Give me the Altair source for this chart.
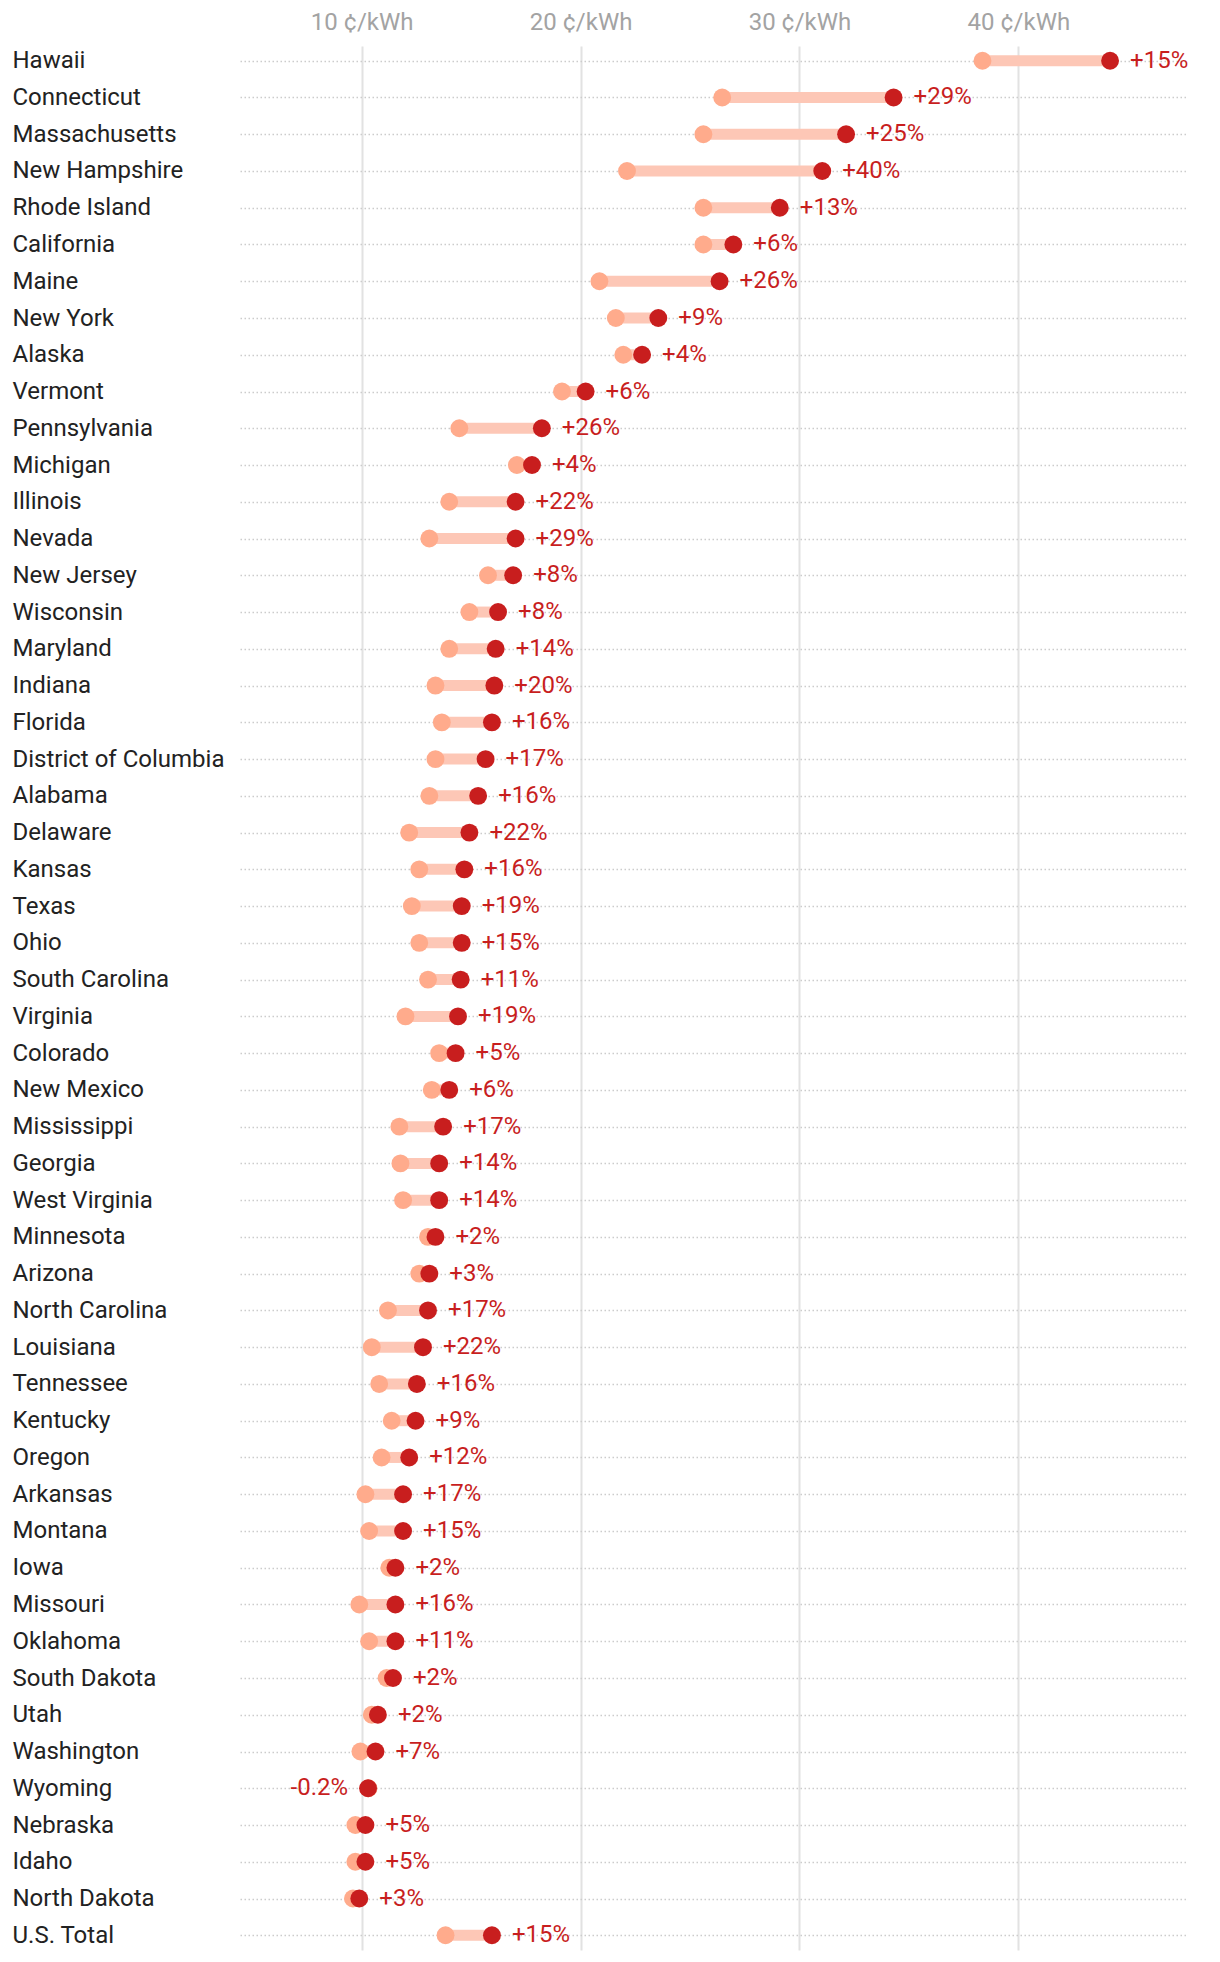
import altair as alt
import pandas as pd

states = [
    "Hawaii", "Connecticut", "Massachusetts", "New Hampshire", "Rhode Island",
    "California", "Maine", "New York", "Alaska", "Vermont", "Pennsylvania",
    "Michigan", "Illinois", "Nevada", "New Jersey", "Wisconsin", "Maryland",
    "Indiana", "Florida", "District of Columbia", "Alabama", "Delaware",
    "Kansas", "Texas", "Ohio", "South Carolina", "Virginia", "Colorado",
    "New Mexico", "Mississippi", "Georgia", "West Virginia", "Minnesota",
    "Arizona", "North Carolina", "Louisiana", "Tennessee", "Kentucky",
    "Oregon", "Arkansas", "Montana", "Iowa", "Missouri", "Oklahoma",
    "South Dakota", "Utah", "Washington", "Wyoming", "Nebraska", "Idaho",
    "North Dakota", "U.S. Total",
]

price_before = [
    38.36, 26.47, 25.61, 22.12, 25.61, 25.61, 20.86, 21.61, 21.95, 19.15,
    14.46, 17.09, 14.00, 13.09, 15.77, 14.92, 14.00, 13.37, 13.66, 13.37,
    13.09, 12.17, 12.63, 12.29, 12.63, 13.03, 12.00, 13.54, 13.20, 11.72,
    11.77, 11.89, 13.03, 12.63, 11.20, 10.46, 10.80, 11.37, 10.91, 10.17,
    10.34, 11.26, 9.89, 10.34, 11.14, 10.46, 9.94, 10.31, 9.71, 9.71,
    9.60, 13.83,
]

price_after = [
    44.19, 34.30, 32.13, 31.04, 29.10, 26.98, 26.35, 23.55, 22.81, 20.23,
    18.23, 17.78, 17.03, 17.03, 16.92, 16.23, 16.12, 16.06, 15.95, 15.66,
    15.32, 14.92, 14.69, 14.57, 14.57, 14.52, 14.40, 14.29, 14.00, 13.72,
    13.54, 13.54, 13.37, 13.09, 13.03, 12.80, 12.52, 12.46, 12.17, 11.89,
    11.89, 11.54, 11.54, 11.54, 11.43, 10.74, 10.63, 10.29, 10.17, 10.17,
    9.89, 15.95,
]

change_labels = [
    "+15%", "+29%", "+25%", "+40%", "+13%", "+6%", "+26%", "+9%", "+4%", "+6%",
    "+26%", "+4%", "+22%", "+29%", "+8%", "+8%", "+14%", "+20%", "+16%", "+17%",
    "+16%", "+22%", "+16%", "+19%", "+15%", "+11%", "+19%", "+5%", "+6%", "+17%",
    "+14%", "+14%", "+2%", "+3%", "+17%", "+22%", "+16%", "+9%", "+12%", "+17%",
    "+15%", "+2%", "+16%", "+11%", "+2%", "+2%", "+7%", "-0.2%", "+5%", "+5%",
    "+3%", "+15%",
]

tick_values = [10, 20, 30, 40]

df = pd.DataFrame({
    "state": states,
    "before": price_before,
    "after": price_after,
    "label": change_labels,
})

DARK = "#c81e1e"
LIGHT = "#ffab8c"
BAR = "#fdc7b6"

x_scale = alt.Scale(domain=[4.44, 47.75], nice=False, zero=False)

x_axis = alt.Axis(
    orient="top", values=tick_values, labelExpr="datum.value + ' ¢/kWh'",
    title=None, ticks=False, tickSize=0, domain=False, labelPadding=12,
    labelFontSize=24, labelColor="#a3a3a3", labelFont="Roboto",
    grid=True, gridColor="#e2e2e2", gridWidth=2,
)

y_enc = alt.Y(
    "state:N", sort=states, title=None,
    scale=alt.Scale(type="point", padding=0.4),
    axis=alt.Axis(
        labelAlign="left", labelPadding=228, labelFontSize=24,
        labelColor="#222222", labelFont="Roboto", labelLimit=400,
        labelBaseline="middle", ticks=False, domain=False, grid=True,
        gridColor="#cccccc", gridDash=[1.5, 2.5], gridWidth=1.5,
    ),
)

base = alt.Chart(df).encode(y=y_enc)

bars = base.mark_rule(strokeWidth=11, color=BAR).encode(
    x=alt.X("before:Q", scale=x_scale, axis=x_axis),
    x2="after:Q",
)

dots_before = base.mark_circle(size=320, opacity=1, color=LIGHT).encode(
    x=alt.X("before:Q", scale=x_scale, axis=x_axis),
)

dots_after = base.mark_circle(size=320, opacity=1, color=DARK).encode(
    x=alt.X("after:Q", scale=x_scale, axis=x_axis),
)

text_right = base.transform_filter("datum.after >= datum.before").mark_text(
    align="left", baseline="middle", dx=20, fontSize=24, font="Roboto", color=DARK
).encode(
    x=alt.X("after:Q", scale=x_scale, axis=x_axis),
    text="label:N",
)

text_left = base.transform_filter("datum.after < datum.before").mark_text(
    align="right", baseline="middle", dx=-20, fontSize=24, font="Roboto", color=DARK
).encode(
    x=alt.X("after:Q", scale=x_scale, axis=x_axis),
    text="label:N",
)

chart = alt.layer(bars, dots_before, dots_after, text_right, text_left).properties(
    width=948,
    height=1904,
    autosize=alt.AutoSizeParams(type="none"),
    padding={"left": 232, "top": 38, "right": 24, "bottom": 8},
).configure(font="Roboto").configure_view(stroke=None)

chart.save("out.html", embed_options={"renderer": "svg", "actions": False})
